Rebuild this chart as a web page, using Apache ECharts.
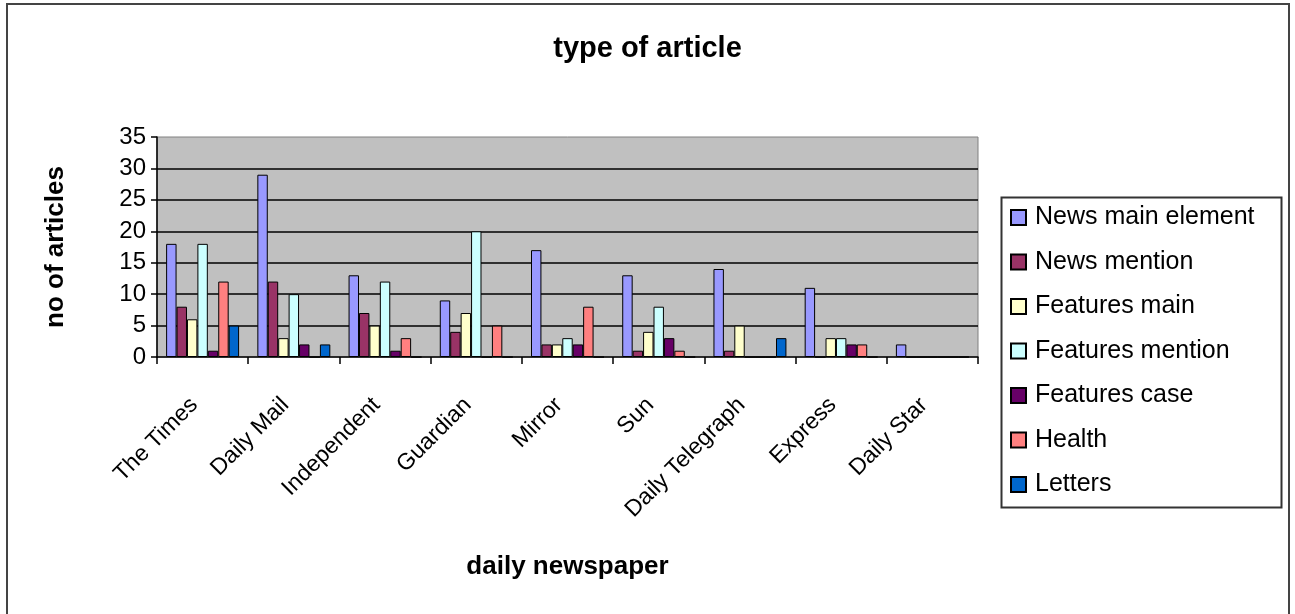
<!DOCTYPE html>
<html>
<head>
<meta charset="utf-8">
<title>type of article</title>
<script src="https://cdn.jsdelivr.net/npm/echarts@6/dist/echarts.min.js"></script>
<style>
  html, body { margin: 0; padding: 0; background: #fff; }
  #chart { width: 1295px; height: 614px; }
</style>
</head>
<body>
<div id="chart"></div>
<script>
// 数据
const papers = ['The Times', 'Daily Mail', 'Independent', 'Guardian', 'Mirror', 'Sun', 'Daily Telegraph', 'Express', 'Daily Star']
const newsMainElement = [18, 29, 13, 9, 17, 13, 14, 11, 2]
const newsMention     = [8, 12, 7, 4, 2, 1, 1, 0, 0]
const featuresMain    = [6, 3, 5, 7, 2, 4, 5, 3, 0]
const featuresMention = [18, 10, 12, 20, 3, 8, 0, 3, 0]
const featuresCase    = [1, 2, 1, 0, 2, 3, 0, 2, 0]
const health          = [12, 0, 3, 5, 8, 1, 0, 2, 0]
const letters         = [5, 2, 0, 0, 0, 0, 3, 0, 0]
const yTicks = [0, 5, 10, 15, 20, 25, 30, 35]

const seriesDefs = [
  { name: 'News main element', data: newsMainElement, color: '#9999ff' },
  { name: 'News mention', data: newsMention, color: '#993366' },
  { name: 'Features main', data: featuresMain, color: '#ffffcc' },
  { name: 'Features mention', data: featuresMention, color: '#ccffff' },
  { name: 'Features case', data: featuresCase, color: '#660066' },
  { name: 'Health', data: health, color: '#ff8080' },
  { name: 'Letters', data: letters, color: '#0066cc' },
]

const FONT = "'Liberation Sans', Arial, sans-serif"

const chartInstance = echarts.init(document.getElementById('chart'))

const option = {
  backgroundColor: '#ffffff',
  animation: false,
  title: {
    text: 'type of article',
    left: 'center',
    top: 29,
    textStyle: { fontFamily: FONT, fontSize: 29, fontWeight: 'bold', color: '#000' },
  },
  // 外框 + 图例框
  graphic: [
    {
      type: 'rect',
      shape: { x: 7, y: 4, width: 1282, height: 660 },
      style: { fill: 'none', stroke: '#444', lineWidth: 2 },
      silent: true,
    },
    {
      type: 'rect',
      shape: { x: 1001.5, y: 197.5, width: 280, height: 310 },
      style: { fill: 'none', stroke: '#333', lineWidth: 2 },
      silent: true,
    },
  ],
  legend: {
    orient: 'vertical',
    left: 1010,
    top: 205,
    padding: 0,
    itemWidth: 15,
    itemHeight: 15,
    itemGap: 19.5,
    icon: 'rect',
    textStyle: { fontFamily: FONT, fontSize: 25, color: '#000', lineHeight: 25, padding: [0, 0, 0, 4] },
    data: seriesDefs.map(s => s.name),
  },
  grid: {
    left: 157,
    top: 137,
    right: 317,
    bottom: 257,
    show: true,
    backgroundColor: '#c0c0c0',
    borderColor: '#808080',
    borderWidth: 1,
  },
  xAxis: {
    type: 'category',
    data: papers,
    name: 'daily newspaper',
    nameLocation: 'middle',
    nameGap: 197,
    nameTextStyle: { fontFamily: FONT, fontSize: 26, fontWeight: 'bold', color: '#000' },
    axisLine: { lineStyle: { color: '#000', width: 1.5 } },
    axisTick: { show: true, alignWithLabel: false, length: 7, lineStyle: { color: '#000', width: 1.5 } },
    axisLabel: {
      rotate: 45,
      margin: 36,
      padding: [0, 12, 0, 0],
      interval: 0,
      fontFamily: FONT,
      fontSize: 23,
      color: '#000',
    },
    splitLine: { show: false },
  },
  yAxis: {
    type: 'value',
    min: yTicks[0],
    max: yTicks[yTicks.length - 1],
    interval: 5,
    name: 'no of articles',
    nameLocation: 'middle',
    nameGap: 88,
    nameTextStyle: { fontFamily: FONT, fontSize: 26, fontWeight: 'bold', color: '#000' },
    axisLine: { show: true, lineStyle: { color: '#000', width: 1.5 } },
    axisTick: { show: true, length: 6, lineStyle: { color: '#000', width: 1.5 } },
    axisLabel: { margin: 11, fontFamily: FONT, fontSize: 24, color: '#000' },
    splitLine: {
      show: true,
      showMinLine: false,
      showMaxLine: false,
      lineStyle: { color: '#000', width: 1.5 },
    },
  },
  series: seriesDefs.map(s => ({
    name: s.name,
    type: 'bar',
    data: s.data,
    barGap: '0%',
    barCategoryGap: '20%',
    itemStyle: { color: s.color, borderColor: '#000', borderWidth: 1 },
  })),
}

chartInstance.setOption(option)

window.addEventListener('resize', () => chartInstance.resize())
</script>
</body>
</html>
